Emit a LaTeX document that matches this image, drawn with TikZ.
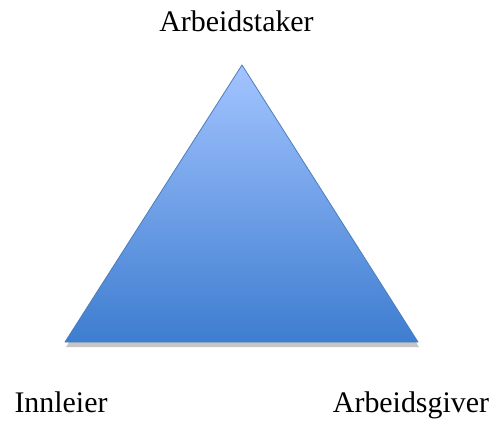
\documentclass[tikz,border=0pt]{standalone}
\usepackage{fontspec}
\setmainfont{Liberation Serif}
\usepackage{xcolor}
\usetikzlibrary{shadows}
\definecolor{triTop}{HTML}{A3C4FF}
\definecolor{triBot}{HTML}{3E7DD0}
\definecolor{triLine}{HTML}{4A7EBB}

\begin{document}
\begin{tikzpicture}[x=1bp,y=1bp,
  role/.style={anchor=base,inner sep=0pt,font=\fontsize{30}{36}\selectfont}]
  \useasboundingbox (0,0) rectangle (499,428);
  % corners
  \coordinate (A) at (242,363);
  \coordinate (L) at (65,86);
  \coordinate (R) at (418,86);
  % triangle
  \draw[triLine,line width=0.8pt,line join=round,top color=triTop,bottom color=triBot,
    drop shadow={shadow xshift=1bp,shadow yshift=-5bp,opacity=.45}]
    (A) -- (R) -- (L) -- cycle;
  % labels
  \node[role] (arbeidstaker) at (236.5,396) {Arbeidstaker};
  \node[role] (innleier) at (61,16) {Innleier};
  \node[role] (arbeidsgiver) at (411,16) {Arbeidsgiver};
\end{tikzpicture}
\end{document}
